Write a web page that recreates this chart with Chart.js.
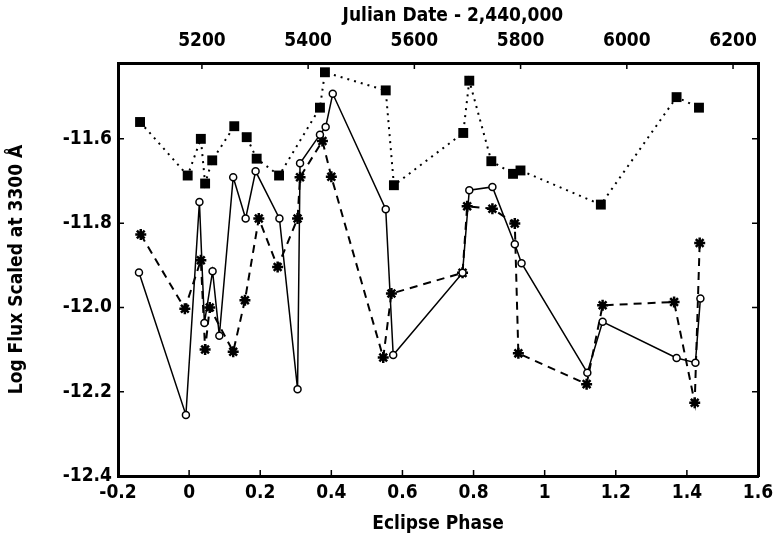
<!DOCTYPE html>
<html lang="en">
<head>
  <meta charset="UTF-8">
  <title>Log Flux vs Eclipse Phase</title>
  <script src="https://cdn.jsdelivr.net/npm/chart.js"></script>
  <style>
    body { margin: 0; background: #fff; }
    canvas { display: block; }
  </style>
</head>
<body>

<canvas id="chart" width="780" height="539"></canvas>

<script>
// filled squares (dotted line)
const squarePhase = [-0.138, -0.004, 0.033, 0.045, 0.065, 0.127, 0.162, 0.19, 0.253, 0.368, 0.382,
  0.553, 0.576, 0.771, 0.788, 0.85, 0.911, 0.932, 1.158, 1.371, 1.434];
const squareFlux = [-11.56, -11.687, -11.60, -11.706, -11.651, -11.57, -11.596, -11.647, -11.687, -11.526, -11.442,
  -11.485, -11.71, -11.586, -11.462, -11.653, -11.683, -11.675, -11.756, -11.501, -11.526];

// open circles (solid line)
const circlePhase = [-0.141, -0.009, 0.029, 0.043, 0.066, 0.085, 0.124, 0.159, 0.187, 0.254, 0.305, 0.312,
  0.368, 0.384, 0.404, 0.553, 0.574, 0.769, 0.788, 0.853, 0.916, 0.935, 1.12, 1.163, 1.371, 1.424, 1.438];
const circleFlux = [-11.917, -12.255, -11.75, -12.037, -11.914, -12.067, -11.691, -11.789, -11.677, -11.789, -12.194, -11.658,
  -11.59, -11.572, -11.493, -11.767, -12.113, -11.918, -11.722, -11.714, -11.85, -11.895, -12.155, -12.034, -12.12, -12.131, -11.979];

// asterisks (dashed line)
const starPhase = [-0.136, -0.012, 0.033, 0.045, 0.058, 0.124, 0.157, 0.196, 0.249, 0.305, 0.312, 0.375, 0.40,
  0.546, 0.569, 0.769, 0.782, 0.853, 0.916, 0.926, 1.118, 1.163, 1.364, 1.422, 1.436];
const starFlux = [-11.827, -12.003, -11.888, -12.10, -12.0, -12.105, -11.983, -11.789, -11.904, -11.789, -11.691, -11.605, -11.69,
  -12.119, -11.967, -11.918, -11.76, -11.766, -11.801, -12.109, -12.182, -11.995, -11.987, -12.226, -11.847];

const phaseTicks = [-0.2, 0, 0.2, 0.4, 0.6, 0.8, 1, 1.2, 1.4, 1.6];
const jdTicks = [5200, 5400, 5600, 5800, 6000, 6200];
const fluxTicks = [-12.4, -12.2, -12.0, -11.8, -11.6];

const toPoints = (xs, ys) => xs.map((x, i) => ({ x: x, y: ys[i] }));
const family = '"DejaVu Sans Condensed", "DejaVu Sans", sans-serif';
const tickFont = { family: family, size: 19, weight: 'bold' };
const titleFont = { family: family, size: 19, weight: 'bold' };

// short tick marks pointing into the plot, on all four sides
const inwardTicks = {
  id: 'inwardTicks',
  afterDraw(chart) {
    const { ctx, chartArea: a, scales } = chart;
    const len = 6;
    ctx.save();
    ctx.strokeStyle = '#000';
    ctx.lineWidth = 1.5;
    ctx.beginPath();
    scales.x.ticks.forEach(t => {
      const px = scales.x.getPixelForValue(t.value);
      ctx.moveTo(px, a.bottom); ctx.lineTo(px, a.bottom - len);
    });
    scales.x2.ticks.forEach(t => {
      const px = scales.x2.getPixelForValue(t.value);
      ctx.moveTo(px, a.top); ctx.lineTo(px, a.top + len);
    });
    scales.y.ticks.forEach(t => {
      const py = scales.y.getPixelForValue(t.value);
      ctx.moveTo(a.left, py); ctx.lineTo(a.left + len, py);
      ctx.moveTo(a.right, py); ctx.lineTo(a.right - len, py);
    });
    ctx.stroke();
    ctx.restore();
  }
};

const frame = { display: true, width: 3, color: '#000' };
const noGrid = { drawOnChartArea: false, drawTicks: false };

new Chart(document.getElementById('chart').getContext('2d'), {
  type: 'line',
  data: {
    datasets: [
      {
        label: 'squares', data: toPoints(squarePhase, squareFlux),
        borderColor: '#000', borderWidth: 2, borderDash: [2, 5],
        pointStyle: 'rect', pointRadius: 7, pointBackgroundColor: '#000', pointBorderColor: '#000', pointBorderWidth: 0,
        xAxisID: 'x', yAxisID: 'y'
      },
      {
        label: 'circles', data: toPoints(circlePhase, circleFlux),
        borderColor: '#000', borderWidth: 1.5,
        pointStyle: 'circle', pointRadius: 3.5, pointBackgroundColor: '#fff', pointBorderColor: '#000', pointBorderWidth: 1.5,
        xAxisID: 'x', yAxisID: 'y'
      },
      {
        label: 'asterisks', data: toPoints(starPhase, starFlux),
        borderColor: '#000', borderWidth: 2, borderDash: [8, 6],
        pointStyle: 'star', pointRadius: 5.5, pointBackgroundColor: '#000', pointBorderColor: '#000', pointBorderWidth: 2.5,
        xAxisID: 'x', yAxisID: 'y'
      }
    ]
  },
  options: {
    responsive: false,
    animation: false,
    layout: { padding: { right: 22 } },
    plugins: { legend: { display: false }, tooltip: { enabled: false } },
    scales: {
      x: {
        type: 'linear', position: 'bottom', min: -0.2, max: 1.6,
        afterBuildTicks: s => { s.ticks = phaseTicks.map(v => ({ value: v })); },
        afterFit: s => { s.height = 63; },
        ticks: { color: '#000', font: tickFont, padding: 6, maxRotation: 0, autoSkip: false, callback: v => String(v) },
        grid: noGrid, border: frame,
        title: { display: true, text: 'Eclipse Phase', color: '#000', font: titleFont, padding: { top: 0, bottom: 4 } }
      },
      x2: {
        type: 'linear', position: 'top', min: 5042, max: 6247,
        afterBuildTicks: s => { s.ticks = jdTicks.map(v => ({ value: v })); },
        afterFit: s => { s.height = 63; },
        ticks: { color: '#000', font: tickFont, padding: 11, maxRotation: 0, autoSkip: false, callback: v => String(v) },
        grid: noGrid, border: frame,
        title: { display: true, text: '     Julian Date - 2,440,000', color: '#000', font: titleFont, padding: { top: 5, bottom: 0 } }
      },
      y: {
        type: 'linear', position: 'left', min: -12.4, max: -11.42,
        afterBuildTicks: s => { s.ticks = fluxTicks.map(v => ({ value: v })); },
        afterFit: s => { s.width = 118; },
        ticks: { color: '#000', font: tickFont, padding: 6, autoSkip: false, callback: v => v.toFixed(1) },
        grid: noGrid, border: frame,
        title: { display: true, text: 'Log Flux Scaled at 3300 Å', color: '#000', font: titleFont, padding: { top: 6, bottom: 0 } }
      },
      y2: {
        type: 'linear', position: 'right', min: -12.4, max: -11.42,
        afterFit: s => { s.width = 0; },
        ticks: { display: false },
        grid: noGrid, border: frame
      }
    }
  },
  plugins: [inwardTicks]
});
</script>

</body>
</html>
